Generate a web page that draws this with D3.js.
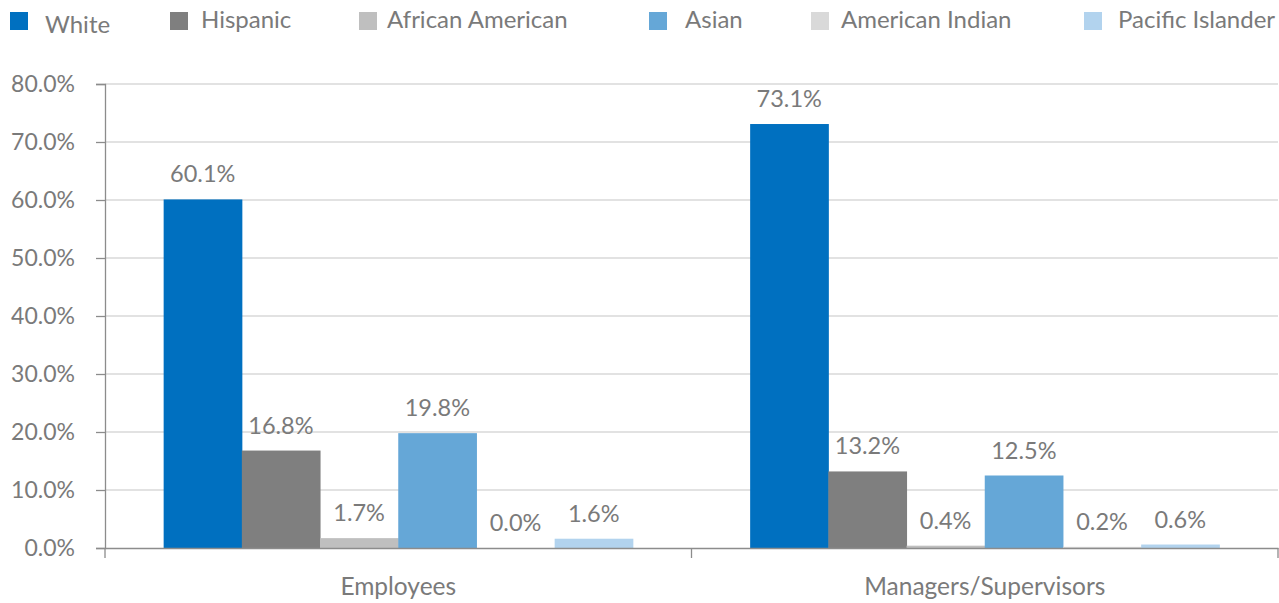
<!DOCTYPE html>
<html>
<head>
<meta charset="utf-8">
<script src="https://cdn.jsdelivr.net/npm/d3@7"></script>
<style>
  html, body { margin: 0; padding: 0; background: #fff; }
  svg { display: block; }
  text { font-family: Lato, "Open Sans", sans-serif; fill: #7a7a7a; }
</style>
</head>
<body>
<svg id="chart" width="1279" height="603"></svg>
<script>
const categories = ["Employees", "Managers/Supervisors"];
const seriesNames = ["White", "Hispanic", "African American", "Asian", "American Indian", "Pacific Islander"];
const seriesColors = ["#0070C0", "#7F7F7F", "#BFBFBF", "#65A7D7", "#D9D9D9", "#B2D3EE"];
const employeesValues = [60.1, 16.8, 1.7, 19.8, 0.0, 1.6];
const managersValues = [73.1, 13.2, 0.4, 12.5, 0.2, 0.6];
const yTicks = [0, 10, 20, 30, 40, 50, 60, 70, 80];

const valuesByCategory = [employeesValues, managersValues];

const svg = d3.select("#chart");
const plotLeft = 105, plotRight = 1278, plotTop = 84, plotBottom = 548;

const x0 = d3.scaleBand().domain(categories).range([plotLeft, plotRight]).paddingInner(0).paddingOuter(0);
const x1 = d3.scaleBand().domain(seriesNames).range([0, x0.bandwidth()]).paddingOuter(0.75).paddingInner(0);
const y = d3.scaleLinear().domain([0, 80]).range([plotBottom, plotTop]);

// gridlines
svg.append("g")
  .selectAll("line")
  .data(yTicks.filter(d => d > 0))
  .join("line")
  .attr("x1", plotLeft).attr("x2", plotRight)
  .attr("y1", d => y(d)).attr("y2", d => y(d))
  .attr("stroke", "#d9d9d9").attr("stroke-width", 1.3);

// bars
const groups = svg.append("g").selectAll("g")
  .data(categories.map((c, i) => ({ c, vals: valuesByCategory[i] })))
  .join("g")
  .attr("transform", d => `translate(${x0(d.c)},0)`);

groups.selectAll("rect")
  .data(d => d.vals.map((v, j) => ({ name: seriesNames[j], v, color: seriesColors[j] })))
  .join("rect")
  .attr("x", d => x1(d.name))
  .attr("width", x1.bandwidth() + 0.5)
  .attr("y", d => y(d.v))
  .attr("height", d => plotBottom - y(d.v))
  .attr("fill", d => d.color);

groups.selectAll("text")
  .data(d => d.vals.map((v, j) => ({ name: seriesNames[j], v })))
  .join("text")
  .attr("x", d => x1(d.name) + x1.bandwidth() / 2)
  .attr("y", d => y(d.v) - 17)
  .attr("text-anchor", "middle")
  .attr("font-size", "23.5px")
  .text(d => d.v.toFixed(1) + "%");

// y axis
const yAxis = d3.axisLeft(y).tickValues(yTicks).tickFormat(d => d.toFixed(1) + "%").tickSize(9).tickPadding(21);
const gy = svg.append("g").attr("transform", `translate(${plotLeft},0)`).call(yAxis);
gy.select(".domain").attr("stroke", "#8c8c8c").attr("stroke-width", 1.3);
gy.selectAll(".tick line").attr("stroke", "#8c8c8c").attr("stroke-width", 1.3);
gy.selectAll(".tick text").attr("font-size", "23px").attr("fill", "#7a7a7a").attr("font-family", "Lato");

// x axis
const xAxis = d3.axisBottom(x0).tickSize(0).tickPadding(30);
const gx = svg.append("g").attr("transform", `translate(0,${plotBottom})`).call(xAxis);
gx.select(".domain").attr("stroke", "#8c8c8c").attr("stroke-width", 1.3);
gx.selectAll(".tick text").attr("font-size", "24.5px").attr("fill", "#7a7a7a").attr("font-family", "Lato");
const sepTicks = [plotLeft, plotLeft + x0.bandwidth(), plotRight];
gx.append("g").selectAll("line").data(sepTicks).join("line")
  .attr("x1", d => d).attr("x2", d => d).attr("y1", 0).attr("y2", 10)
  .attr("stroke", "#8c8c8c").attr("stroke-width", 1.3);

// legend
const legendX = [10, 170, 359, 649, 811, 1084];
const legendTextDx = [35, 31, 28, 36, 30, 34];
const legend = svg.append("g").selectAll("g")
  .data(seriesNames.map((n, i) => ({ n, i })))
  .join("g")
  .attr("transform", d => `translate(${legendX[d.i]},12)`);
legend.append("rect").attr("width", 18).attr("height", 18).attr("fill", d => seriesColors[d.i]);
legend.append("text")
  .attr("x", d => legendTextDx[d.i])
  .attr("y", d => d.i === 0 ? 21 : 16)
  .attr("font-size", "24px")
  .text(d => d.n);
</script>
</body>
</html>
